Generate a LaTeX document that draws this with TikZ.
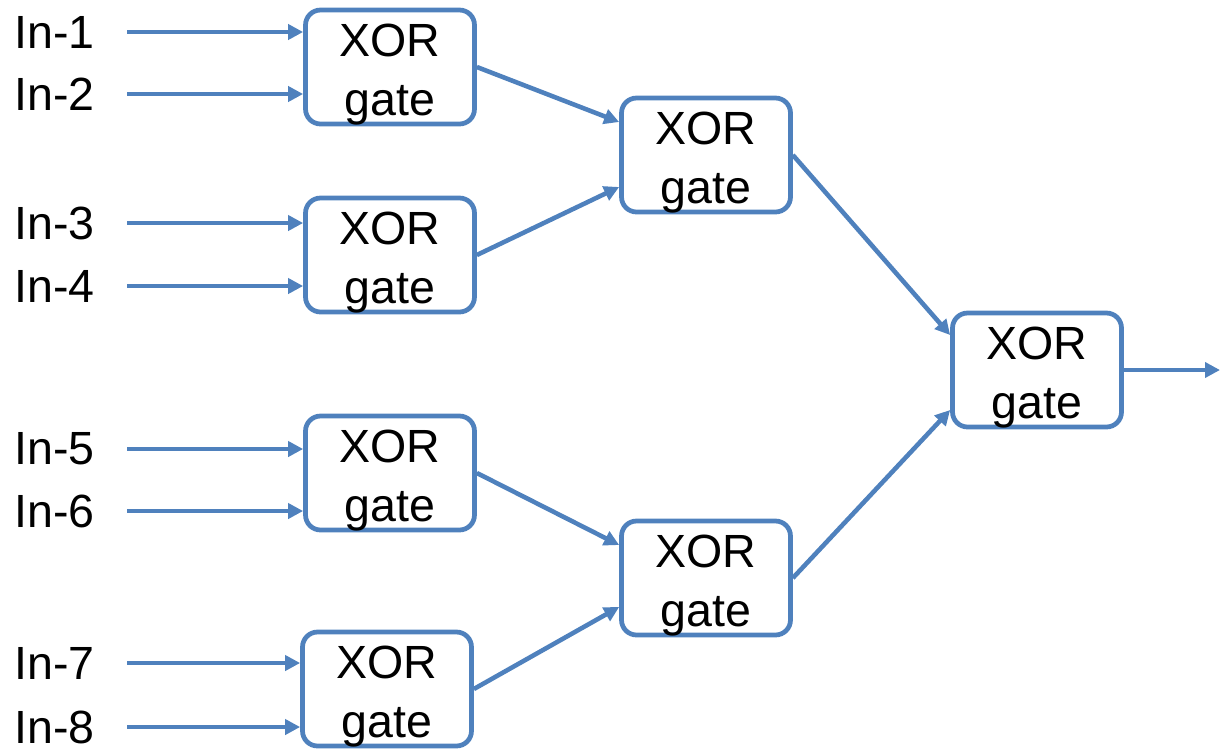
\documentclass[tikz,border=0pt]{standalone}
\usepackage{fontspec}
\setmainfont{Liberation Sans}
\usetikzlibrary{arrows.meta,positioning}
\definecolor{gateblue}{RGB}{79,129,189}
\begin{document}
\begin{tikzpicture}[x=0.02cm,y=-0.02cm,
	every node/.style={font=\fontsize{26.5}{34}\selectfont,text=black},
	gate/.style={draw=gateblue,line width=2.7pt,rounded corners=0.3cm,minimum width=3.38cm,minimum height=2.28cm,align=center,inner sep=0pt,text height=55.6pt,text depth=0pt},
	wire/.style={gateblue,line width=2.6pt,-{Triangle[length=0.3cm,width=0.3cm]}}]
	\useasboundingbox(0,0)rectangle(1220,752);
	% first row of gates
	\node[gate](G1)at(390,67){XOR\\gate};
	\node[gate](G2)at(390,255){XOR\\gate};
	\node[gate](G3)at(390,473){XOR\\gate};
	\node[gate](G4)at(387,689){XOR\\gate};
	% second and last row
	\node[gate](GA)at(706,155){XOR\\gate};
	\node[gate](GB)at(706,578){XOR\\gate};
	\node[gate](GC)at(1037,370){XOR\\gate};
	\coordinate(out)at(1220,370);
	% inputs
	\foreach\i/\y/\g in{1/32/G1,2/94/G1,3/223/G2,4/286/G2,5/449/G3,6/511/G3,7/663/G4,8/727/G4}{
		\coordinate(S\i)at(127,\y);
		\node[left=0.64cm of S\i,inner sep=0pt](L\i){In-\i};
		\draw[wire](S\i)--(\g.west|-S\i);
	}
	\draw[wire](G1.east)--([yshift=0.66cm]GA.west);
	\draw[wire](G2.east)--([yshift=-0.64cm]GA.west);
	\draw[wire](G3.east)--([yshift=0.66cm]GB.west);
	\draw[wire](G4.east)--([yshift=-0.58cm]GB.west);
	\draw[wire](GA.east)--([yshift=0.7cm]GC.west);
	\draw[wire](GB.east)--([yshift=-0.8cm]GC.west);
	\draw[wire](GC.east)--(out);
\end{tikzpicture}
\end{document}
